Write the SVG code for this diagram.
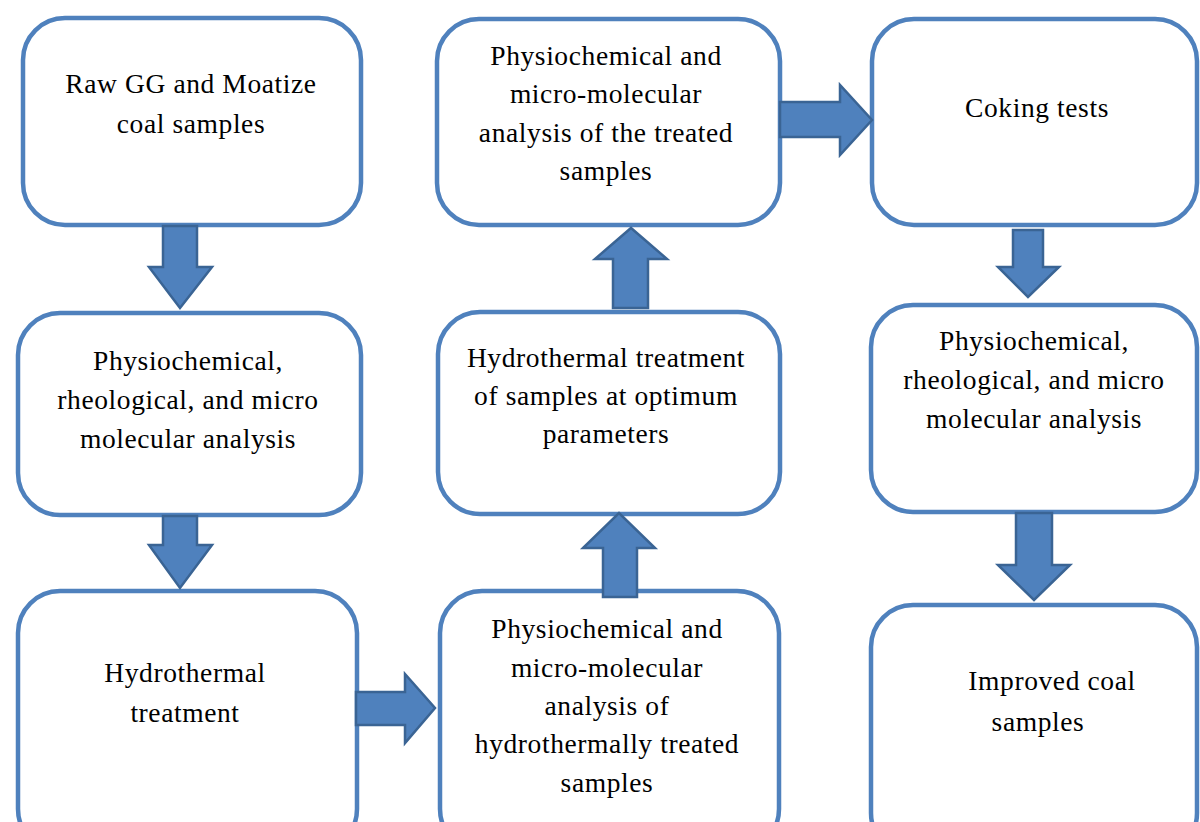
<svg xmlns="http://www.w3.org/2000/svg" width="1200" height="822" viewBox="0 0 1200 822">
<style>
.box{fill:#ffffff;stroke:#4F81BD;stroke-width:4.5}
.arr{fill:#4F81BD;stroke:#3A6494;stroke-width:2.5;stroke-linejoin:miter}
.t{font-family:'Times New Roman','Liberation Serif',Times,serif;font-size:27.5px;fill:#000;text-anchor:middle;letter-spacing:0.6px}
</style>
<rect width="1200" height="822" fill="#ffffff"/>
<g id="n1">
<rect class="box" x="23" y="18" width="338" height="207" rx="42"/>
<text class="t" x="191" y="93">Raw GG and Moatize</text>
<text class="t" x="191" y="133">coal samples</text>
</g>
<g id="n2">
<rect class="box" x="18" y="313" width="343" height="202" rx="42"/>
<text class="t" x="188" y="370">Physiochemical,</text>
<text class="t" x="188" y="409">rheological, and micro</text>
<text class="t" x="188" y="448">molecular  analysis</text>
</g>
<g id="n3">
<rect class="box" x="18" y="591" width="339" height="260" rx="42"/>
<text class="t" x="185" y="682">Hydrothermal</text>
<text class="t" x="185" y="722">treatment</text>
</g>
<g id="n4">
<rect class="box" x="440" y="591" width="339" height="260" rx="42"/>
<text class="t" x="607" y="638">Physiochemical and</text>
<text class="t" x="607" y="677">micro-molecular</text>
<text class="t" x="607" y="715">analysis of</text>
<text class="t" x="607" y="753">hydrothermally treated</text>
<text class="t" x="607" y="792">samples</text>
</g>
<g id="n5">
<rect class="box" x="438" y="312" width="342" height="202" rx="42"/>
<text class="t" x="606" y="367">Hydrothermal treatment</text>
<text class="t" x="606" y="405">of samples at optimum</text>
<text class="t" x="606" y="443">parameters</text>
</g>
<g id="n6">
<rect class="box" x="437" y="19" width="343" height="206" rx="42"/>
<text class="t" x="606" y="65">Physiochemical and</text>
<text class="t" x="606" y="103">micro-molecular</text>
<text class="t" x="606" y="142">analysis of the treated</text>
<text class="t" x="606" y="180">samples</text>
</g>
<g id="n7">
<rect class="box" x="872" y="19" width="325" height="206" rx="42"/>
<text class="t" x="1037" y="117">Coking tests</text>
</g>
<g id="n8">
<rect class="box" x="871" y="305" width="326" height="207" rx="42"/>
<text class="t" x="1034" y="350">Physiochemical,</text>
<text class="t" x="1034" y="389">rheological, and micro</text>
<text class="t" x="1034" y="428">molecular  analysis</text>
</g>
<g id="n9">
<rect class="box" x="871" y="605" width="326" height="250" rx="42"/>
<text class="t" x="1052" y="690">Improved coal</text>
<text class="t" x="1038" y="731">samples</text>
</g>
<g id="connectors">
<polygon class="arr" points="163,226 197,226 197,267 212,267 180,308 149,267 163,267"/>
<polygon class="arr" points="163,516 197,516 197,545 212,545 180,588 149,545 163,545"/>
<polygon class="arr" points="356,692 405,692 405,674 435,708 405,743 405,725 356,725"/>
<polygon class="arr" points="603,597 603,548 583,548 619,513 655,548 637,548 637,597"/>
<polygon class="arr" points="613,308 613,259 595,259 631,228 667,259 648,259 648,308"/>
<polygon class="arr" points="780,102 840,102 840,85 872,120 840,155 840,137 780,137"/>
<polygon class="arr" points="1013,230 1043,230 1043,267 1059,267 1028,297 998,267 1013,267"/>
<polygon class="arr" points="1016,513 1052,513 1052,565 1070,565 1034,600 998,565 1016,565"/>
</g>
</svg>
